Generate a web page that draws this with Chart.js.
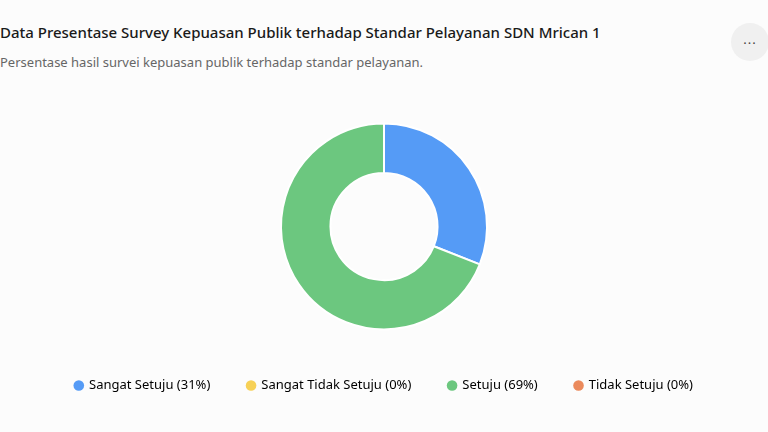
<!DOCTYPE html>
<html>
<head>
<meta charset="utf-8">
<script src="https://cdn.jsdelivr.net/npm/chart.js@4"></script>
<style>
  html, body { margin: 0; padding: 0; background: #fcfcfc; }
  body { width: 768px; height: 432px; position: relative; overflow: hidden; font-family: "Noto Sans", sans-serif; }
  #title { position: absolute; left: 0; top: 22px; font-size: 15px; font-weight: 500; color: #1a1a1a; white-space: nowrap; }
  #subtitle { position: absolute; left: 0; top: 53px; font-size: 13px; color: #666; white-space: nowrap; }
  #more { position: absolute; left: 731px; top: 23px; width: 38px; height: 38px; border-radius: 50%; background: #f0f0f0;
          color: #444; font-size: 13px; line-height: 32px; text-align: center; letter-spacing: 1px; }
  #wrap { position: absolute; left: 0; top: 80px; width: 768px; height: 332px; }
</style>
</head>
<body>
<div id="title">Data Presentase Survey Kepuasan Publik terhadap Standar Pelayanan SDN Mrican 1</div>
<div id="subtitle">Persentase hasil survei kepuasan publik terhadap standar pelayanan.</div>
<div id="more">...</div>
<div id="wrap"><canvas id="surveyChart"></canvas></div>
<script>
  const categories = ['Sangat Setuju', 'Sangat Tidak Setuju', 'Setuju', 'Tidak Setuju'];
  const percentages = [31, 0, 69, 0];
  const colors = ['#559bf6', '#f7d157', '#6cc77f', '#eb8a5c'];

  const ctx = document.getElementById('surveyChart');

  new Chart(ctx, {
    type: 'doughnut',
    data: {
      labels: categories,
      datasets: [{
        data: percentages,
        backgroundColor: colors,
        borderColor: '#ffffff',
        borderWidth: 2,
        hoverOffset: 0
      }]
    },
    options: {
      responsive: true,
      maintainAspectRatio: false,
      animation: false,
      radius: 103,
      cutout: '52%',
      layout: { padding: { top: 31, bottom: 10 } },
      plugins: {
        tooltip: { enabled: false },
        legend: {
          position: 'bottom',
          labels: {
            usePointStyle: true,
            pointStyle: 'circle',
            boxWidth: 7.5,
            boxHeight: 7.5,
            padding: 37,
            color: '#333',
            font: { family: 'Noto Sans', size: 13 },
            generateLabels: function (chart) {
              return categories.map((name, i) => ({
                text: name + ' (' + percentages[i] + '%)',
                fillStyle: colors[i],
                strokeStyle: colors[i],
                lineWidth: 0,
                pointStyle: 'circle',
                hidden: false,
                index: i
              }));
            }
          }
        }
      }
    }
  });
</script>
</body>
</html>
